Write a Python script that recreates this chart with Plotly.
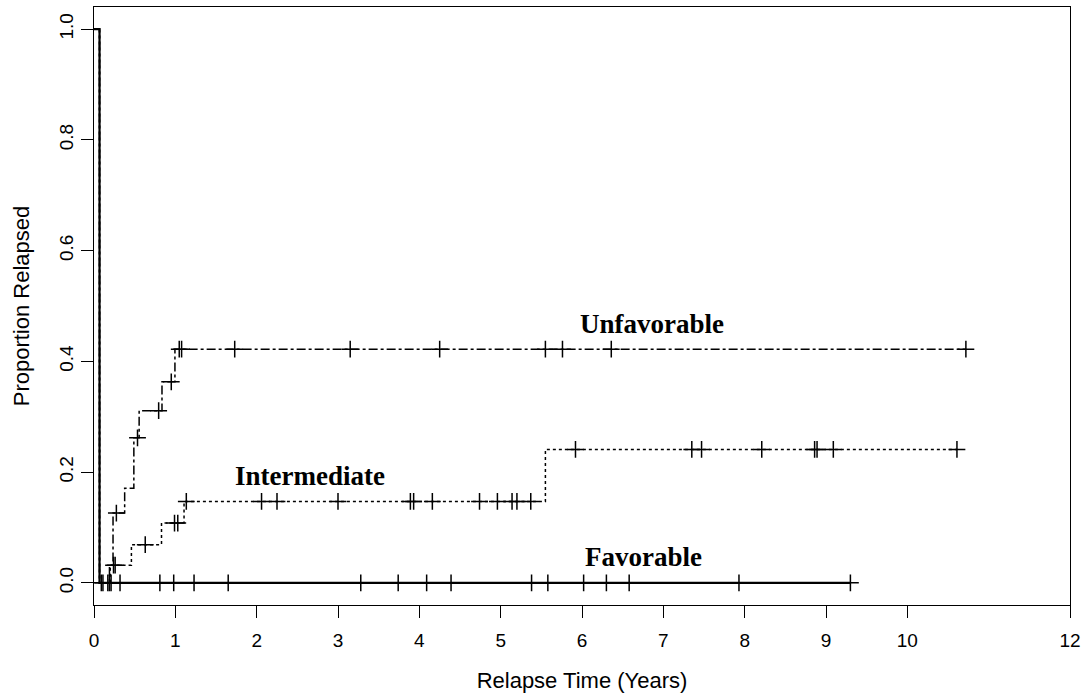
import numpy as np
import plotly.graph_objects as go

# ---- data ----
unfav_times = [0.0, 0.068, 0.19, 0.234, 0.377, 0.49, 0.555, 0.836, 0.995]
unfav_vals = [1.0, 0.0, 0.032, 0.126, 0.171, 0.262, 0.311, 0.363, 0.422]
unfav_cens = [0.275, 0.535, 0.795, 0.95, 1.048, 1.077, 1.73, 3.15, 4.25,
              5.55, 5.76, 6.36, 10.72]

inter_times = [0.0, 0.068, 0.2, 0.46, 0.83, 1.107, 5.55]
inter_vals = [1.0, 0.0, 0.032, 0.069, 0.108, 0.147, 0.241]
inter_cens = [0.24, 0.26, 0.63, 0.99, 1.03, 1.135, 2.06, 2.25, 3.00, 3.89,
              3.93, 4.16, 4.74, 4.96, 5.14, 5.20, 5.37, 5.92, 7.35, 7.47,
              8.21, 8.86, 8.89, 9.09, 10.61]

fav_times = [0.0, 0.068]
fav_vals = [1.0, 0.0]
fav_cens = [0.09, 0.11, 0.17, 0.19, 0.21, 0.32, 0.81, 0.98, 1.23, 1.65,
            3.28, 3.74, 4.09, 4.39, 5.38, 5.58, 6.02, 6.30, 6.58, 7.93, 9.30]

x_ticks = [0, 1, 2, 3, 4, 5, 6, 7, 8, 9, 10, 12]
y_ticks = [0.0, 0.2, 0.4, 0.6, 0.8, 1.0]

labels = ["Unfavorable", "Intermediate", "Favorable"]
label_x = [6.86, 2.66, 6.75]
label_y = [0.467, 0.193, 0.046]


def step_val(times, vals, t):
    idx = np.searchsorted(np.array(times), t, side="right") - 1
    return np.array(vals)[idx]


fig = go.Figure()
groups = [
    (unfav_times, unfav_vals, unfav_cens, "dashdot", 1.5),
    (inter_times, inter_vals, inter_cens, "dot", 1.5),
    (fav_times, fav_vals, fav_cens, "solid", 2.2),
]
for times, vals, cens, dash, w in groups:
    end = max(cens)
    xs = list(times) + [end]
    ys = list(vals) + [vals[-1]]
    fig.add_trace(go.Scatter(x=xs, y=ys, mode="lines", line_shape="hv",
                             line=dict(color="black", width=w, dash=dash),
                             showlegend=False, hoverinfo="skip"))
    cy = step_val(times, vals, np.array(cens))
    fig.add_trace(go.Scatter(x=cens, y=cy, mode="markers",
                             marker=dict(symbol="cross-thin", size=12,
                                         line=dict(color="black", width=1.5)),
                             showlegend=False, hoverinfo="skip"))

for txt, lx, ly in zip(labels, label_x, label_y):
    fig.add_annotation(x=lx, y=ly, text=f"<b>{txt}</b>", showarrow=False,
                       xanchor="center", yanchor="middle",
                       font=dict(family="Liberation Serif, Times New Roman, serif",
                                 size=27, color="black"))

axis_font = dict(family="Liberation Sans Narrow, Arial Narrow, Liberation Sans, Arial, sans-serif",
                 size=18, color="black")

fig.update_layout(
    width=1091, height=696,
    margin=dict(l=94, r=21, t=7, b=91),
    paper_bgcolor="white", plot_bgcolor="white",
    font=axis_font,
    xaxis=dict(range=[0, 12], tickvals=x_ticks, ticktext=[str(v) for v in x_ticks],
               showgrid=False, zeroline=False, showline=True, linecolor="black",
               linewidth=1.2, mirror=True, ticks="outside", ticklen=12,
               tickwidth=1.2, tickcolor="black", tickfont=dict(size=19),
               ticklabelstandoff=6,
               title=dict(text="Relapse Time (Years)", standoff=22)),
    yaxis=dict(range=[-0.04, 1.04], tickvals=y_ticks,
               ticktext=[f"{v:.1f}" for v in y_ticks], tickangle=-90,
               showgrid=False, zeroline=False, showline=True, linecolor="black",
               linewidth=1.2, mirror=True, ticks="outside", ticklen=12,
               tickwidth=1.2, tickcolor="black", tickfont=dict(size=19),
               title=dict(text="Proportion Relapsed", standoff=20)),
)

fig.write_html("out.html")
